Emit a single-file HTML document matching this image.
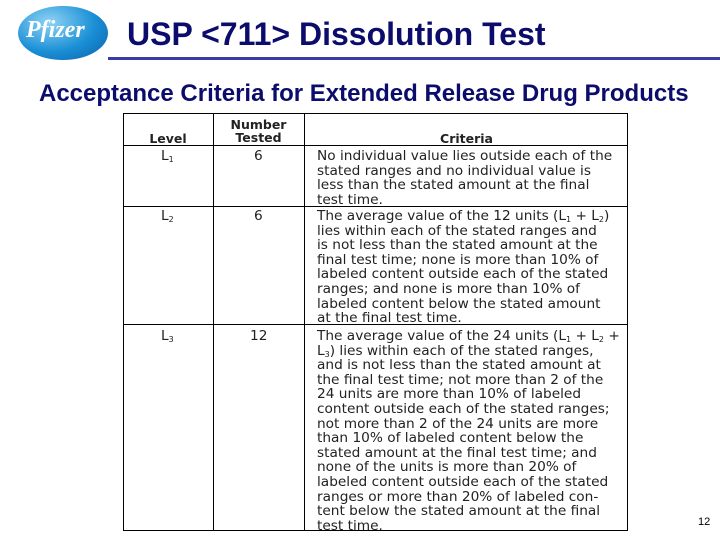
<!DOCTYPE html>
<html><head><meta charset="utf-8"><style>
body{margin:0;width:720px;height:540px;background:#fff;position:relative;overflow:hidden;font-family:"Liberation Sans",sans-serif}
.a{position:absolute}
.t{font-family:"DejaVu Sans","Liberation Sans",sans-serif;font-size:13.7px;color:#222;line-height:14.6px;white-space:nowrap}
.t sub{font-size:8px;line-height:0;vertical-align:-2px}
.h{font-family:"DejaVu Sans","Liberation Sans",sans-serif;font-weight:bold;font-size:12.5px;color:#222;line-height:13px;text-align:center}
</style></head><body>
<div class="a" style="left:18px;top:6px;width:90px;height:54px;border-radius:50%;background:radial-gradient(ellipse at 35% 30%,#8fd3f5,#1a8fd6 55%,#0a5fa8);"></div>
<div class="a" style="left:26px;top:17px;font-family:'Liberation Serif',serif;font-style:italic;font-weight:bold;font-size:24px;color:#fff;">Pfizer</div>
<div class="a" style="left:127px;top:16px;font-size:32px;font-weight:bold;color:#0c0c6c;">USP &lt;711&gt; Dissolution Test</div>
<div class="a" style="left:108px;top:57px;width:612px;height:3px;background:#3a3aa8"></div>
<div class="a" style="left:39px;top:80px;font-size:24px;font-weight:bold;color:#0c0c6c;">Acceptance Criteria for Extended Release Drug Products</div>
<div class="a" style="left:123px;top:113px;width:503px;height:416px;border:1px solid #000;"></div>
<div class="a" style="left:213px;top:113px;width:1px;height:418px;background:#000"></div>
<div class="a" style="left:304px;top:113px;width:1px;height:418px;background:#000"></div>
<div class="a" style="left:123px;top:145px;width:505px;height:1px;background:#000"></div>
<div class="a" style="left:123px;top:206px;width:505px;height:1px;background:#000"></div>
<div class="a" style="left:123px;top:324px;width:505px;height:1px;background:#000"></div>
<div class="a h" style="left:123px;top:132px;width:90px">Level</div>
<div class="a h" style="left:213px;top:118px;width:91px">Number<br>Tested</div>
<div class="a h" style="left:305px;top:132px;width:323px">Criteria</div>
<div class="a t" style="left:161px;top:149px">L<sub>1</sub></div>
<div class="a t" style="left:161px;top:209px">L<sub>2</sub></div>
<div class="a t" style="left:161px;top:329px">L<sub>3</sub></div>
<div class="a t" style="left:254px;top:149px">6</div>
<div class="a t" style="left:254px;top:209px">6</div>
<div class="a t" style="left:250px;top:329px">12</div>
<div class="a t" style="left:317px;top:149px">No individual value lies outside each of the<br>stated ranges and no individual value is<br>less than the stated amount at the final<br>test time.</div>
<div class="a t" style="left:317px;top:209px">The average value of the 12 units (L<sub>1</sub> + L<sub>2</sub>)<br>lies within each of the stated ranges and<br>is not less than the stated amount at the<br>final test time; none is more than 10% of<br>labeled content outside each of the stated<br>ranges; and none is more than 10% of<br>labeled content below the stated amount<br>at the final test time.</div>
<div class="a t" style="left:317px;top:329px">The average value of the 24 units (L<sub>1</sub> + L<sub>2</sub> +<br>L<sub>3</sub>) lies within each of the stated ranges,<br>and is not less than the stated amount at<br>the final test time; not more than 2 of the<br>24 units are more than 10% of labeled<br>content outside each of the stated ranges;<br>not more than 2 of the 24 units are more<br>than 10% of labeled content below the<br>stated amount at the final test time; and<br>none of the units is more than 20% of<br>labeled content outside each of the stated<br>ranges or more than 20% of labeled con-<br>tent below the stated amount at the final<br>test time.</div>
<div class="a" style="left:698px;top:516px;font-size:11px;color:#000">12</div>
</body></html>
